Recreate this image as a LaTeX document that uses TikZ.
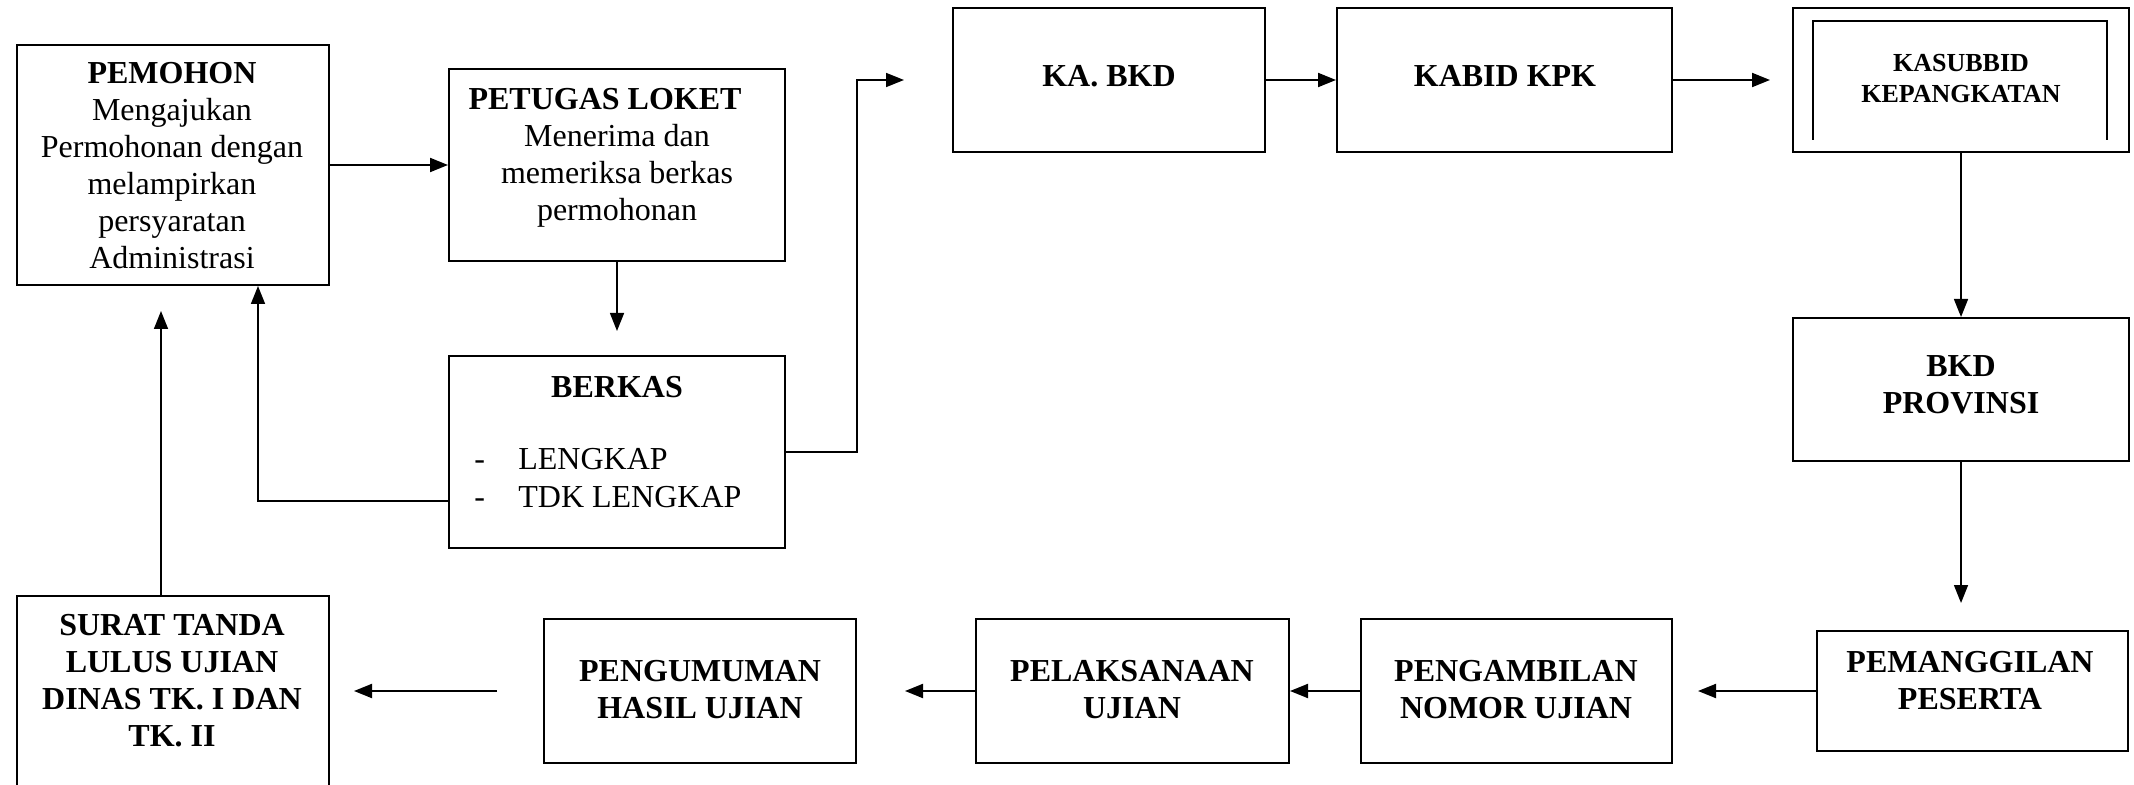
\documentclass[tikz,border=0pt]{standalone}
\usepackage{fontspec}
\setmainfont{Liberation Serif}
\usetikzlibrary{arrows.meta,calc}
\tikzset{
  box/.style={draw, line width=1pt, inner sep=0pt},
  txt/.style={align=center, inner sep=0pt, font=\fontsize{16pt}{18.5pt}\selectfont},
  btxt/.style={txt, font=\fontsize{16pt}{18.5pt}\selectfont\bfseries},
  arr/.style={-{Triangle[length=9pt,width=7pt]}, line width=1pt},
  varr/.style={-{Triangle[length=9pt,width=7pt]}, line width=0.75pt},
}
\begin{document}
\begin{tikzpicture}[x=0.5pt,y=-0.5pt]
\useasboundingbox (0,0) rectangle (2134,785);
% boxes
\node[box, minimum width=156pt, minimum height=120pt] (pemohon) at (173,165) {};
\node[box, minimum width=168pt, minimum height=96pt] (petugas) at (617,165) {};
\node[box, minimum width=168pt, minimum height=96pt] (berkas) at (617,452) {};
\node[box, minimum width=156pt, minimum height=72pt] (kabkd) at (1109,80) {};
\node[box, minimum width=167.5pt, minimum height=72pt] (kabid) at (1504.5,80) {};
\node[box, minimum width=168pt, minimum height=72pt] (kasub) at (1961,80) {};
\node[box, minimum width=168pt, minimum height=71.5pt] (bkdprov) at (1961,389.5) {};
\node[box, minimum width=155.5pt, minimum height=60pt] (panggil) at (1972.5,691) {};
\node[box, minimum width=155.5pt, minimum height=72pt] (ambil) at (1516.5,691) {};
\node[box, minimum width=156.5pt, minimum height=72pt] (laksana) at (1132.5,691) {};
\node[box, minimum width=156pt, minimum height=72pt] (umum) at (700,691) {};
\node[box, minimum width=156pt, minimum height=104pt] (surat) at (173,700) {};
% inner frame of KASUBBID box (open at the bottom)
\draw[line width=0.6pt] (1813,140) -- (1813,21) -- (2107,21) -- (2107,140);
% texts
\node[txt] (pemohonT) at (172,166) {{\bfseries PEMOHON}\\Mengajukan\\Permohonan dengan\\melampirkan\\persyaratan\\Administrasi};
\node[txt] (petugasT) at (617,158) {{\bfseries PETUGAS LOKET\hspace*{12pt}}\\Menerima dan\\memeriksa berkas\\permohonan};
\node[btxt] (berkasT) at (617,387) {BERKAS};
\node[txt, align=left, anchor=west, font=\fontsize{16pt}{19pt}\selectfont] (berkasL) at (474,478) {\makebox[22pt][l]{-}LENGKAP\\\makebox[22pt][l]{-}TDK LENGKAP};
\node[btxt] (kabkdT) at (1109,76) {KA. BKD};
\node[btxt] (kabidT) at (1505,76) {KABID KPK};
\node[txt, font=\fontsize{13pt}{15.5pt}\selectfont\bfseries] (kasubT) at (1961,79) {KASUBBID\\KEPANGKATAN};
\node[btxt] (bkdprovT) at (1961,385) {BKD\\PROVINSI};
\node[btxt] (panggilT) at (1970,681) {PEMANGGILAN\\PESERTA};
\node[btxt] (ambilT) at (1516,690) {PENGAMBILAN\\NOMOR UJIAN};
\node[btxt] (laksanaT) at (1132,690) {PELAKSANAAN\\UJIAN};
\node[btxt] (umumT) at (700,690) {PENGUMUMAN\\HASIL UJIAN};
\node[btxt] (suratT) at (172,681) {SURAT TANDA\\LULUS UJIAN\\DINAS TK. I DAN\\TK. II};
% free connector ends
\coordinate (c1) at (617,331);
\coordinate (bk) at (258,501);
\coordinate (kk) at (857,452);
\coordinate (katip) at (904,80);
\coordinate (kstip) at (1770,80);
\coordinate (pvtip) at (1961,603);
\coordinate (pgtip) at (1698,691);
\coordinate (lktip) at (905,691);
\coordinate (s1) at (497,691);
\coordinate (s2) at (354,691);
\coordinate (sp) at (161,311);
% connectors
\draw[arr] (pemohon.east) -- (petugas.west);
\draw[varr] (petugas.south) -- (c1);
\draw[arr, line width=0.8pt] (berkas.west |- bk) -- (bk) -- (bk |- pemohon.south);
\draw[arr, line width=0.8pt] (berkas.east) -- (kk) |- (katip);
\draw[arr] (kabkd.east) -- (kabid.west);
\draw[arr] (kabid.east) -- (kstip);
\draw[varr] (kasub.south) -- (bkdprov.north);
\draw[varr] (bkdprov.south) -- (pvtip);
\draw[arr] (panggil.west) -- (pgtip);
\draw[arr] (ambil.west) -- (laksana.east);
\draw[arr] (laksana.west) -- (lktip);
\draw[arr] (s1) -- (s2);
\draw[varr] (surat.north -| sp) -- (sp);
\end{tikzpicture}
\end{document}
